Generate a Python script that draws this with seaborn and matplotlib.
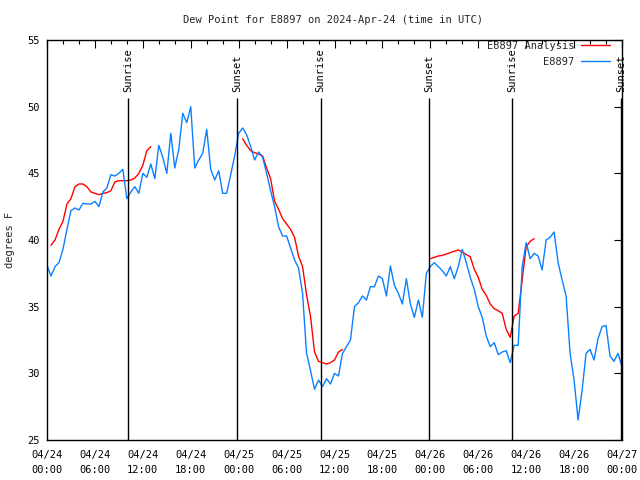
import pandas as pd
import seaborn as sns
import matplotlib.pyplot as plt
import matplotlib.dates as mdates
from matplotlib.lines import Line2D

# dew point readings for E8897, one every 30 min from 2024-04-24 00:00 UTC
start = pd.Timestamp("2024-04-24 00:00")
obs_dewpt = [
    38.1, 37.3, 38.0, 38.3, 39.3, 40.8, 42.2, 42.4, 42.25, 42.75, 42.7, 42.7,
    42.9, 42.5, 43.6, 43.9, 44.9, 44.8, 45.0, 45.3, 43.1, 43.6, 44.0, 43.5,
    45.0, 44.7, 45.7, 44.6, 47.1, 46.2, 45.0, 48.0, 45.4, 46.8, 49.5, 48.8,
    50.0, 45.4, 46.0, 46.5, 48.3, 45.3, 44.5, 45.2, 43.5, 43.5, 44.9, 46.3,
    48.0, 48.4, 47.9, 47.0, 46.0, 46.6, 46.2, 45.0, 43.7, 42.5, 41.0, 40.3,
    40.3, 39.4, 38.5, 37.9, 36.0, 31.5, 30.2, 28.8, 29.5, 29.0, 29.6, 29.2,
    30.0, 29.8, 31.5, 32.0, 32.5, 35.0, 35.3, 35.8, 35.5, 36.5, 36.5, 37.3,
    37.1, 35.8, 38.05, 36.6, 36.0, 35.2, 37.1, 35.2, 34.2, 35.5, 34.2, 37.5,
    38.0, 38.3, 38.0, 37.7, 37.3, 38.0, 37.1, 38.0, 39.3, 38.3, 37.2, 36.3,
    35.0, 34.2, 32.8, 32.0, 32.3, 31.4, 31.6, 31.7, 30.8, 32.1, 32.1, 38.0,
    39.8, 38.6, 39.0, 38.8, 37.75, 40.0, 40.2, 40.6, 38.3, 37.0, 35.8, 31.5,
    29.5, 26.5, 28.7, 31.5, 31.8, 31.0, 32.6, 33.5, 33.6, 31.3, 30.9, 31.5,
    30.5,
]

# analysis values, three separate pieces (30 min steps)
ana1_start = "2024-04-24 00:30"
ana1 = [39.6, 40.0, 40.8, 41.4, 42.7, 43.1, 44.0, 44.2, 44.2, 44.0, 43.6, 43.5,
        43.4, 43.5, 43.55, 43.7, 44.35, 44.45, 44.45, 44.45, 44.5, 44.65, 45.0,
        45.6, 46.7, 47.0]
ana2_start = "2024-04-25 00:30"
ana2 = [47.6, 47.1, 46.7, 46.55, 46.45, 46.3, 45.4, 44.6, 42.9, 42.3, 41.6, 41.2,
        40.8, 40.2, 38.8, 38.0, 35.9, 34.25, 31.6, 30.9, 30.8, 30.7, 30.8, 31.0,
        31.6, 31.8]
ana3_start = "2024-04-26 00:00"
ana3 = [38.6, 38.7, 38.8, 38.85, 38.95, 39.05, 39.15, 39.25, 39.1, 38.9, 38.75,
        37.8, 37.2, 36.3, 35.85, 35.2, 34.85, 34.7, 34.5, 33.3, 32.7, 34.3, 34.5,
        37.0, 39.5, 39.9, 40.1]

sunrise = ["2024-04-24 10:10", "2024-04-25 10:15", "2024-04-26 10:16"]
sunset = ["2024-04-24 23:50", "2024-04-25 23:52", "2024-04-26 23:56"]

step = pd.Timedelta(minutes=30)
frames = [pd.DataFrame({"time": start + step * pd.RangeIndex(len(obs_dewpt)),
                        "dewpt": obs_dewpt, "series": "E8897", "seg": "obs"})]
for name, t0, vals in [("a1", ana1_start, ana1), ("a2", ana2_start, ana2),
                       ("a3", ana3_start, ana3)]:
    frames.append(pd.DataFrame({"time": pd.Timestamp(t0) + step * pd.RangeIndex(len(vals)),
                                "dewpt": vals, "series": "E8897 Analysis", "seg": name}))
df = pd.concat(frames, ignore_index=True)

sns.set_theme(style="white")
fs = 7.5
plt.rcParams['font.family'] = ['DejaVu Sans Mono']
plt.rcParams['font.size'] = fs
plt.rcParams['xtick.labelsize'] = fs
plt.rcParams['ytick.labelsize'] = fs
plt.rcParams['legend.fontsize'] = fs

colors = {"E8897 Analysis": "#ff0000", "E8897": "#0a80ff"}

fig = plt.figure(figsize=(6.4, 4.8), dpi=100)
ax = fig.add_axes([47 / 640, 40 / 480, 575 / 640, 400 / 480])

sns.lineplot(data=df, x="time", y="dewpt", hue="series", units="seg",
             estimator=None, hue_order=["E8897 Analysis", "E8897"],
             palette=colors, linewidth=1, legend=False, ax=ax)

# sunrise / sunset markers
for lab, times in [("Sunrise", sunrise), ("Sunset", sunset)]:
    for t in times:
        t = pd.Timestamp(t)
        ax.vlines(t, 25, 50.65, color="black", linewidth=1)
        ax.text(t, 51.1, lab, rotation=90, ha="center", va="bottom",
                color="black", fontsize=fs)

ax.set_xlim(start, start + pd.Timedelta(hours=72))
ax.set_ylim(25, 55)
ax.set_yticks(range(25, 56, 5))
ax.xaxis.set_major_locator(mdates.HourLocator(byhour=range(0, 24, 6)))
ax.xaxis.set_minor_locator(mdates.HourLocator(interval=2))
ax.xaxis.set_major_formatter(mdates.DateFormatter("%m/%d\n%H:%M"))
for lbl in ax.get_xticklabels():
    lbl.set_linespacing(1.6)
ax.set_xlabel("")
ax.set_ylabel("")
ax.tick_params(which="both", direction="in", top=True, right=True, color="black",
               labelcolor="black", width=0.8, labelsize=fs)
ax.tick_params(which="major", length=6)
ax.tick_params(axis="x", which="major", pad=7)
ax.tick_params(axis="y", which="major", pad=5)
ax.tick_params(which="minor", length=3)
for s in ax.spines.values():
    s.set_color("black")
    s.set_linewidth(1)

handles = [Line2D([], [], color=colors[k], lw=1) for k in ["E8897 Analysis", "E8897"]]
ax.legend(handles, ["E8897 Analysis", "E8897"], loc="upper right",
          bbox_to_anchor=(610 / 640, 1 - 41 / 480), bbox_transform=fig.transFigure,
          frameon=False, markerfirst=False, handlelength=2.8, handletextpad=0.6,
          labelspacing=0.55, borderpad=0, borderaxespad=0, fontsize=fs)

fig.text(333 / 640, 1 - 20 / 480, "Dew Point for E8897 on 2024-Apr-24 (time in UTC)",
         ha="center", va="center", fontsize=fs)
fig.text(10 / 640, 0.5, "degrees F", rotation=90, ha="center", va="center", fontsize=fs)

fig.savefig("out.png", dpi=100)
